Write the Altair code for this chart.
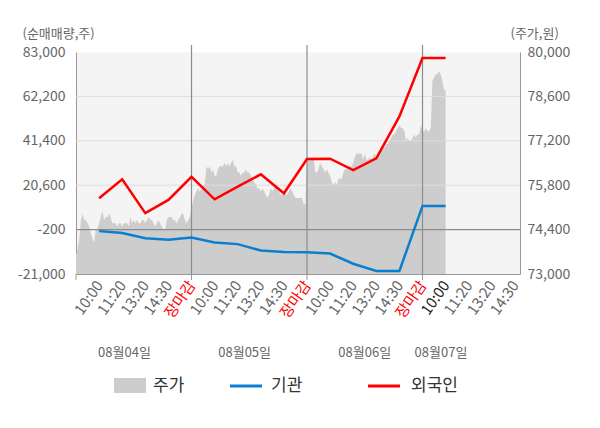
import altair as alt
import pandas as pd

# ---------------- data ----------------
time_labels = ["10:00", "11:20", "13:20", "14:30", "장마감"]
date_labels = ["08월04일", "08월05일", "08월06일", "08월07일"]
date_slots = [2.1, 7.3, 12.5, 15.8]

line_slots = list(range(1, 17))
institution = [-900, -1800, -4200, -5000, -3900, -6200, -7000, -10000,
               -10700, -10800, -11400, -16200, -19600, -19600, 10900, 10900]
foreign = [14500, 23400, 7500, 13700, 24500, 14000, 19900, 25700,
           16800, 32900, 33000, 27700, 33200, 52800, 80200, 80200]

price_day1 = [73600, 73800, 74100, 74700, 74900, 74700, 74700, 74600, 74500, 74300,
              74100, 74000, 74400, 74400, 74600, 74800, 75000, 74700, 74800, 74800,
              74900, 74800, 74600, 74600, 74600, 74500, 74600, 74600, 74500, 74600,
              74600, 74600, 74500, 74800, 74600, 74700, 74600, 74700, 74600, 74600,
              74700, 74700, 74600, 74700, 74800, 74700, 74700, 74600, 74500, 74600,
              74700, 74600, 74500, 74400, 74400, 74700, 74800, 74800, 74800, 74700,
              74700, 74600, 74700, 74800, 74900, 74900, 74700, 74600, 74700, 74800]
price_day2 = [75100, 75300, 75500, 75600, 75700, 75600, 75700, 75800, 75800, 76400,
              76300, 76400, 76200, 76300, 76100, 76100, 76300, 76400, 76400, 76400,
              76500, 76400, 76500, 76400, 76500, 76600, 76400, 76400, 76200, 76200,
              76100, 76200, 76200, 76300, 76200, 76200, 76100, 76000, 75900, 75800,
              75700, 75700, 75600, 75700, 75600, 75500, 75400, 75500, 75700, 75600,
              75700, 75800, 75700, 75600, 75500, 75500, 75600, 75500, 75500, 75600,
              75700, 75600, 75500, 75400, 75400, 75400, 75400, 75400, 75200, 75200]
price_day3 = [76500, 76600, 76700, 76600, 76700, 76200, 76200, 76300, 76500, 76400,
              76300, 76200, 76300, 76200, 76100, 75900, 75800, 75900, 75800, 76000,
              76000, 76000, 76200, 76300, 76300, 76400, 76400, 76400, 76500, 76700,
              76800, 76800, 76800, 76800, 76600, 76800, 76600, 76600, 76700, 76600,
              76700, 76800, 76700, 76700, 76800, 76900, 77000, 77000, 77100, 77100,
              77200, 77300, 77400, 77400, 77500, 77600, 77700, 77600, 77600, 77500,
              77200, 77300, 77200, 77200, 77300, 77400, 77300, 77400, 77400, 77700]
price_day4 = [77500, 77500, 77600, 77500, 77500, 77600, 79100, 79200, 79300, 79300,
              79400, 79300, 79100, 78800, 78800]

left_ticks = [-21000, -200, 20600, 41400, 62200, 83000]
right_ticks = [73000, 74400, 75800, 77200, 78600, 80000]
legend_labels = ["주가", "기관", "외국인"]

SLOTS_PER_DAY = 5
SAMPLES_PER_DAY = 70
X_MAX = 19.22

# ---------------- tables ----------------
rows = []
for d, arr in enumerate([price_day1, price_day2, price_day3, price_day4]):
    for i, p in enumerate(arr):
        rows.append({"slot": d * SLOTS_PER_DAY + i * SLOTS_PER_DAY / SAMPLES_PER_DAY, "price": p})
price_df = pd.DataFrame(rows)
inst_df = pd.DataFrame({"slot": line_slots, "v": institution})
forn_df = pd.DataFrame({"slot": line_slots, "v": foreign})
grid_df = pd.DataFrame({"v": left_ticks[2:5]})
zero_df = pd.DataFrame({"v": [left_ticks[1]]})
day_df = pd.DataFrame({"slot": [5, 10, 15]})
tick_df = pd.DataFrame({"slot": [0, 5, 10, 15]})
date_df = pd.DataFrame({"slot": date_slots, "date": date_labels})

W, H = 444, 222
FONT = "Noto Sans CJK KR"
NUM_EXPR = "datum.value < 0 ? '-' + format(-datum.value, ',d') : format(datum.value, ',d')"

label_list = "[" + ",".join("'%s'" % t for t in time_labels) + "]"
x_axis = alt.Axis(
    values=list(range(1, 20)),
    labelExpr=label_list + "[(datum.value - 1) % 5]",
    labelAngle=305, labelAlign="right", labelBaseline="middle",
    labelFontSize=15, labelPadding=8, labelOverlap=False, labelFlush=False,
    labelColor={"expr": "datum.value % 5 == 0 ? '#ff0000' : (datum.value == 16 ? '#222222' : '#666666')"},
    ticks=False, grid=False, domainColor="#999999", title=None,
)
xscale = alt.Scale(domain=[0, X_MAX], nice=False, zero=False)
X = alt.X("slot:Q", scale=xscale, axis=x_axis)

lscale = alt.Scale(domain=[left_ticks[0], left_ticks[-1]], nice=False, zero=False)
rscale = alt.Scale(domain=[right_ticks[0], right_ticks[-1]], nice=False, zero=False)
left_axis = alt.Axis(
    values=left_ticks, labelExpr=NUM_EXPR, grid=False, ticks=False, labelPadding=11,
    labelFontSize=14, labelColor="#666666", domainColor="#999999",
    title="(순매매량,주)", titleAngle=0, titleAlign="left", titleBaseline="middle",
    titleX=-54, titleY=-19, titleFontSize=13, titleColor="#666666", titleFontWeight="normal",
)
right_axis = alt.Axis(
    orient="right", values=right_ticks, labelExpr=NUM_EXPR, grid=False, ticks=False, labelPadding=7,
    labelFontSize=14, labelColor="#666666", domainColor="#999999",
    title="(주가,원)", titleAngle=0, titleAlign="left", titleBaseline="middle",
    titleX=-10, titleY=-19, titleFontSize=13, titleColor="#666666", titleFontWeight="normal",
)
YL = alt.Y("v:Q", scale=lscale, axis=left_axis)

area = alt.Chart(price_df).mark_area(color="#cdcdcd").encode(
    x=X, y=alt.Y("price:Q", scale=rscale, axis=right_axis), y2=alt.datum(right_ticks[0])
)

grid = alt.Chart(grid_df).mark_rule(color="#dddddd", strokeWidth=1).encode(y=YL)
zero = alt.Chart(zero_df).mark_rule(color="#8c8c8c", strokeWidth=1.4).encode(y=YL)
days = alt.Chart(day_df).mark_rule(color="#8c8c8c", strokeWidth=1.2).encode(
    x=X, y=alt.value(-7), y2=alt.value(H))
bticks = alt.Chart(tick_df).mark_rule(color="#999999", strokeWidth=1).encode(
    x=X, y=alt.value(H), y2=alt.value(H + 6))
inst = alt.Chart(inst_df).mark_line(color="#0a7fd0", strokeWidth=2.5).encode(x=X, y=YL)
forn = alt.Chart(forn_df).mark_line(color="#ff0000", strokeWidth=2.5).encode(x=X, y=YL)
dates = alt.Chart(date_df).mark_text(fontSize=13, color="#666666", font=FONT).encode(
    x=X, y=alt.value(301), text="date:N")

leg_df = pd.DataFrame({"label": legend_labels})
leg_rect = alt.Chart(leg_df.iloc[[0]]).mark_rect(color="#cdcdcd").encode(
    x=alt.value(38), x2=alt.value(70), y=alt.value(326), y2=alt.value(341))
leg_blue = alt.Chart(leg_df.iloc[[1]]).mark_rule(color="#0a7fd0", strokeWidth=3).encode(
    x=alt.value(154), x2=alt.value(186), y=alt.value(334))
leg_red = alt.Chart(leg_df.iloc[[2]]).mark_rule(color="#ff0000", strokeWidth=3).encode(
    x=alt.value(292), x2=alt.value(324), y=alt.value(334))
leg_t1 = alt.Chart(leg_df.iloc[[0]]).mark_text(align="left", baseline="middle", fontSize=17,
                                               color="#333333", font=FONT).encode(
    x=alt.value(77), y=alt.value(334), text="label:N")
leg_t2 = alt.Chart(leg_df.iloc[[1]]).mark_text(align="left", baseline="middle", fontSize=17,
                                               color="#333333", font=FONT).encode(
    x=alt.value(195), y=alt.value(334), text="label:N")
leg_t3 = alt.Chart(leg_df.iloc[[2]]).mark_text(align="left", baseline="middle", fontSize=17,
                                               color="#333333", font=FONT).encode(
    x=alt.value(335), y=alt.value(334), text="label:N")

inner = alt.layer(grid, zero, days, bticks, inst, forn, dates,
                  leg_rect, leg_blue, leg_red, leg_t1, leg_t2, leg_t3)

chart = alt.layer(area, inner).resolve_scale(y="independent").properties(
    width=W, height=H,
    autosize=alt.AutoSizeParams(type="none"),
    padding={"left": 68, "top": 44, "right": 72, "bottom": 150},
).configure(font=FONT).configure_view(fill="#f4f4f4", stroke="transparent")

chart.save("out.html", embed_options={"renderer": "svg", "actions": False})
